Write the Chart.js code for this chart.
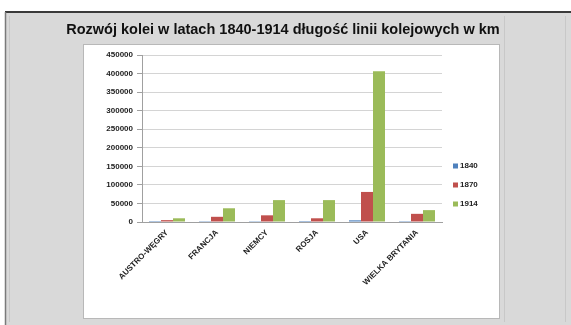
<!DOCTYPE html>
<html><head><meta charset="utf-8">
<script src="https://cdn.jsdelivr.net/npm/chart.js@4/dist/chart.umd.min.js"></script>
<style>html,body{margin:0;padding:0;background:#fff}#wrap{width:571px;height:325px}</style>
</head><body><div id="wrap"><canvas id="c" width="571" height="325"></canvas></div>
<script>
const chartTitle = "Rozwój kolei w latach 1840-1914 długość linii kolejowych w km";
const categories = ["AUSTRO-WĘGRY", "FRANCJA", "NIEMCY", "ROSJA", "USA", "WIELKA BRYTANIA"];
const seriesNames = ["1840", "1870", "1914"];
const values1840 = [144, 410, 469, 27, 4500, 2390];
const values1870 = [5000, 14000, 18000, 10000, 81000, 22000];
const values1914 = [10000, 37000, 59000, 59000, 406000, 32000];
const colors = ["#4F81BD", "#C0504D", "#9BBB59"];
const yTicks = [0, 50000, 100000, 150000, 200000, 250000, 300000, 350000, 400000, 450000];

const FONT = "'Liberation Sans', Arial, sans-serif";

const framePlugin = {
  id: 'frame',
  beforeDraw(chart) {
    const ctx = chart.ctx;
    ctx.save();
    ctx.fillStyle = '#ffffff';
    ctx.fillRect(0, 0, 571, 325);
    ctx.fillStyle = '#d9d9d9';
    ctx.fillRect(6, 12, 565, 313);
    ctx.fillStyle = '#ffffff';
    ctx.fillRect(83, 44, 417, 275);
    ctx.strokeStyle = '#b8b8b8';
    ctx.lineWidth = 1;
    ctx.strokeRect(83.5, 44.5, 416, 274);
    ctx.strokeStyle = '#3a3a3a';
    ctx.lineWidth = 2;
    ctx.beginPath(); ctx.moveTo(5, 12); ctx.lineTo(571, 12); ctx.stroke();
    ctx.strokeStyle = '#7a7a7a';
    ctx.lineWidth = 1.5;
    ctx.beginPath(); ctx.moveTo(5.5, 12); ctx.lineTo(5.5, 325); ctx.stroke();
    ctx.strokeStyle = '#c8c8c8';
    ctx.lineWidth = 1;
    ctx.beginPath(); ctx.moveTo(9.5, 16); ctx.lineTo(9.5, 322); ctx.stroke();
    ctx.beginPath(); ctx.moveTo(504.5, 16); ctx.lineTo(504.5, 322); ctx.stroke();
    ctx.beginPath(); ctx.moveTo(565.5, 16); ctx.lineTo(565.5, 322); ctx.stroke();
    // title
    ctx.fillStyle = '#111';
    ctx.font = "bold 14.5px " + FONT;
    ctx.textAlign = 'center';
    ctx.textBaseline = 'middle';
    ctx.fillText(chartTitle, 283, 30);
    ctx.restore();
  },
  afterDraw(chart) {
    const ctx = chart.ctx;
    ctx.save();
    ctx.font = "bold 8px " + FONT;
    ctx.textBaseline = 'middle';
    ctx.textAlign = 'left';
    chart.data.datasets.forEach((ds, i) => {
      const y = 166 + i * 19;
      ctx.fillStyle = ds.backgroundColor;
      ctx.fillRect(453, y - 2.5, 5, 5);
      ctx.fillStyle = '#222';
      ctx.fillText(ds.label, 460, y);
    });
    ctx.restore();
  }
};

new Chart(document.getElementById('c'), {
  type: 'bar',
  data: {
    labels: categories,
    datasets: [
      { label: seriesNames[0], data: values1840, backgroundColor: colors[0] },
      { label: seriesNames[1], data: values1870, backgroundColor: colors[1] },
      { label: seriesNames[2], data: values1914, backgroundColor: colors[2] }
    ]
  },
  options: {
    responsive: false,
    animation: false,
    devicePixelRatio: 1,
    layout: { padding: { left: 82, right: 129, top: 55, bottom: 13 } },
    datasets: { bar: { categoryPercentage: 0.72, barPercentage: 1.0 } },
    plugins: { legend: { display: false }, title: { display: false }, tooltip: { enabled: false } },
    scales: {
      x: {
        grid: { display: false, drawTicks: false },
        border: { color: '#a0a0a0' },
        afterFit(s) { s.height = 90; },
        ticks: {
          autoSkip: false, maxRotation: 45, minRotation: 45, padding: 6,
          color: '#222', font: { family: FONT, size: 8, weight: 'bold' }
        }
      },
      y: {
        min: 0, max: 450000,
        afterFit(s) { s.width = 60; },
        afterBuildTicks(s) { s.ticks = yTicks.map(v => ({ value: v })); },
        grid: { color: '#d4d4d4', tickLength: 5, tickColor: '#a0a0a0' },
        border: { color: '#a0a0a0' },
        ticks: {
          padding: 4, color: '#222',
          font: { family: FONT, size: 8, weight: 'bold' },
          callback: v => String(v)
        }
      }
    }
  },
  plugins: [framePlugin]
});
</script>
</body></html>
